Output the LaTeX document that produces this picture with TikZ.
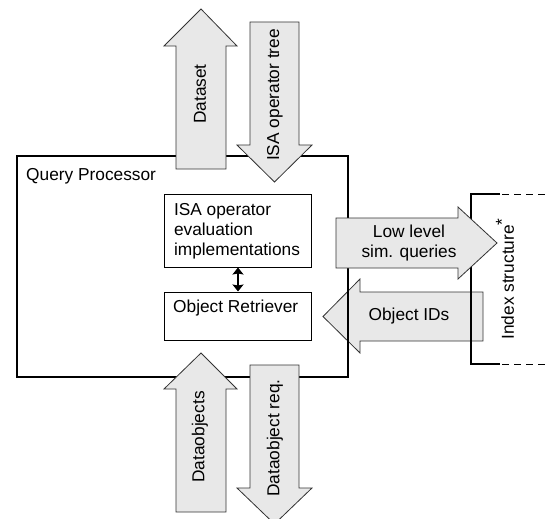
\documentclass[tikz,border=0pt]{standalone}
\usepackage{fontspec}
\setmainfont{Liberation Sans}
\usetikzlibrary{arrows.meta}
\definecolor{arrfill}{HTML}{E8E8E8}
\definecolor{arrline}{HTML}{333333}
\tikzset{
  fatarrow/.style={draw=arrline, fill=arrfill, line width=0.8pt, line join=miter},
  box/.style={draw=black, line width=1pt},
  lbl/.style={inner sep=0pt, font=\fontsize{17.3}{20}\selectfont, text=black},
}
\begin{document}
\begin{tikzpicture}[x=1pt,y=-1pt]
\useasboundingbox (0,0) rectangle (547,519);
\clip (0,0) rectangle (547,519);
% Object IDs arrow (behind box lines)
\draw[fatarrow] (483,292) -- (360,292) -- (360,279) -- (323,316.5) -- (360,353) -- (360,341) -- (483,341) -- cycle;
\node[lbl] (oid) at (409,316.5) {Object IDs};
% Query processor box
\draw[line width=1.5pt] (17,156) rectangle (348,377);
\node[lbl, anchor=west] (qp) at (26,176) {Query Processor};
% inner boxes
\node[box, minimum width=147pt, minimum height=73pt, inner sep=0pt] (isa) at (237.5,230.5) {};
\node[lbl, align=left] (isat) at (237,231) {ISA operator\\evaluation\\implementations};
\node[box, minimum width=147pt, minimum height=48pt, inner sep=0pt] (obr) at (237.5,316) {};
\node[lbl, anchor=west] (obrt) at (173,308) {Object Retriever};
\draw[line width=1.5pt, {Stealth[length=7pt,width=11pt,inset=1pt]}-{Stealth[length=7pt,width=11pt,inset=1pt]}] (isa.south -| 238,0) -- (obr.north -| 238,0);
% index structure bracket
\draw[line width=1.5pt] (500,194) -- (471,194) -- (471,364) -- (500,364);
\draw[line width=1pt, dash pattern=on 7pt off 5pt] (502,194) -- (547,194);
\draw[line width=1pt, dash pattern=on 7pt off 5pt] (502,364) -- (547,364);
\node[lbl, rotate=90] (idx) at (505,279) {Index structure\raisebox{6pt}{*}};
% Low level arrow
\draw[fatarrow] (336,218) -- (458,218) -- (458,207) -- (497,243) -- (458,279) -- (458,268) -- (336,268) -- cycle;
\node[lbl, align=center] (low) at (409,243) {Low level\\sim. queries};
% top arrows
\draw[fatarrow] (176,169) -- (176,46) -- (164,46) -- (201,9) -- (237,46) -- (226,46) -- (226,169) -- cycle;
\node[lbl, rotate=90] (ds) at (200,94) {Dataset};
\draw[fatarrow] (250,22) -- (299,22) -- (299,145) -- (312,145) -- (274.5,182) -- (237,145) -- (250,145) -- cycle;
\node[lbl, rotate=90] (isatree) at (275,95) {ISA operator tree};
% bottom arrows
\draw[fatarrow] (176,512) -- (176,389) -- (164,389) -- (201,353) -- (237,389) -- (226,389) -- (226,512) -- cycle;
\node[lbl, rotate=90] (dob) at (200,437) {Dataobjects};
\draw[fatarrow] (250,365) -- (299,365) -- (299,488) -- (312,488) -- (274.5,524) -- (237,488) -- (250,488) -- cycle;
\node[lbl, rotate=90] (doreq) at (275,438) {Dataobject req.};
\end{tikzpicture}
\end{document}
